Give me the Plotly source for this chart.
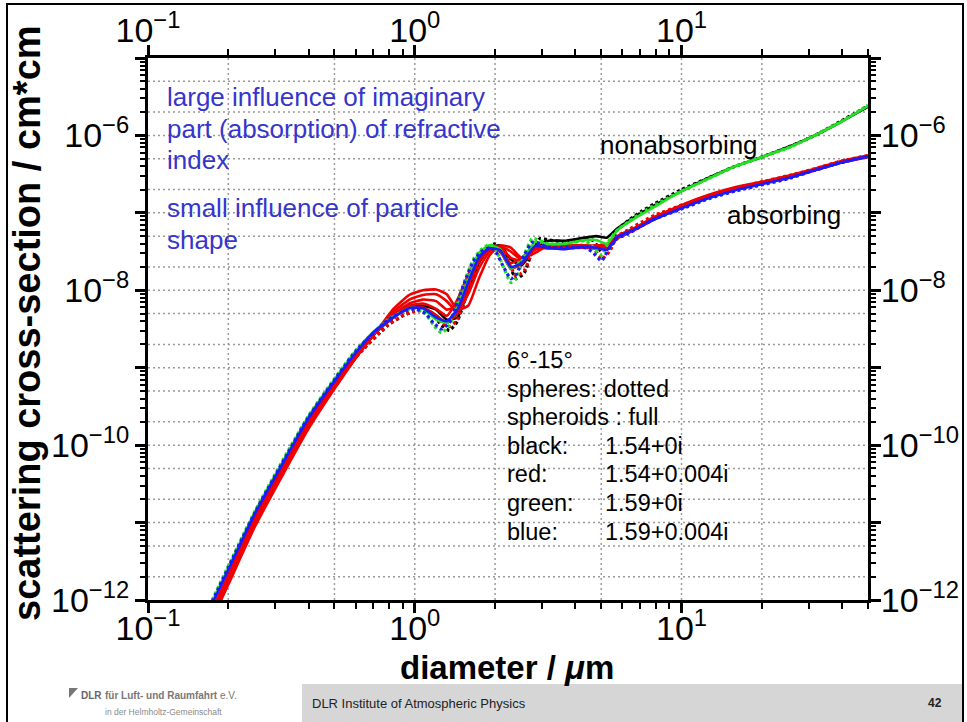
import plotly.graph_objects as go

# ---------------- data ----------------
# diameters (um) of read-out points, spheroid curves (full lines)
d_full = [0.174, 0.200, 0.251, 0.316, 0.398, 0.501, 0.603, 0.708, 0.832, 0.955,
          1.072, 1.202, 1.318, 1.445, 1.585, 1.738, 1.905, 2.089, 2.291, 2.512,
          2.818, 3.162, 3.631, 4.169, 4.786, 5.248, 5.754, 6.607, 7.943, 10.0,
          12.59, 15.85, 19.95, 25.12, 31.62, 39.81, 50.0]

# log10 of scattering cross-section (cm*cm), spheroids
black_full = [-12.15, -11.70, -10.96, -10.33, -9.72, -9.21, -8.84, -8.56, -8.35, -8.22,
              -8.20, -8.25, -8.38, -8.35, -8.00, -7.65, -7.45, -7.42, -7.60, -7.68,
              -7.45, -7.36, -7.36, -7.33, -7.30, -7.32, -7.20, -7.06, -6.90, -6.72,
              -6.55, -6.40, -6.28, -6.15, -6.00, -5.82, -5.63]
red_full_1 = [-12.25, -11.80, -11.06, -10.42, -9.80, -9.27, -8.87, -8.56, -8.24, -8.06,
              -8.00, -7.99, -8.05, -8.25, -8.20, -7.85, -7.55, -7.42, -7.45, -7.58,
              -7.52, -7.42, -7.42, -7.42, -7.42, -7.40, -7.30, -7.20, -7.05, -6.90,
              -6.77, -6.67, -6.60, -6.52, -6.43, -6.33, -6.26]
red_full_2 = [-12.22, -11.77, -11.03, -10.39, -9.77, -9.24, -8.85, -8.56, -8.28, -8.12,
              -8.06, -8.05, -8.14, -8.28, -8.05, -7.72, -7.50, -7.43, -7.50, -7.60,
              -7.48, -7.43, -7.43, -7.43, -7.43, -7.42, -7.31, -7.21, -7.06, -6.91,
              -6.78, -6.68, -6.61, -6.53, -6.44, -6.34, -6.27]
red_full_3 = [-12.18, -11.74, -11.00, -10.36, -9.75, -9.22, -8.84, -8.56, -8.31, -8.17,
              -8.12, -8.14, -8.25, -8.20, -7.92, -7.62, -7.47, -7.45, -7.58, -7.62,
              -7.46, -7.44, -7.44, -7.43, -7.44, -7.43, -7.32, -7.22, -7.07, -6.92,
              -6.79, -6.69, -6.61, -6.54, -6.44, -6.34, -6.27]
red_full_4 = [-12.15, -11.71, -10.97, -10.34, -9.73, -9.21, -8.83, -8.56, -8.33, -8.20,
              -8.17, -8.24, -8.33, -8.12, -7.80, -7.55, -7.45, -7.50, -7.65, -7.58,
              -7.44, -7.45, -7.45, -7.44, -7.45, -7.44, -7.32, -7.22, -7.08, -6.93,
              -6.80, -6.70, -6.62, -6.54, -6.45, -6.35, -6.27]
red_full_5 = [-12.12, -11.68, -10.95, -10.32, -9.71, -9.20, -8.82, -8.55, -8.35, -8.23,
              -8.22, -8.32, -8.42, -8.30, -7.95, -7.62, -7.47, -7.50, -7.72, -7.66,
              -7.45, -7.46, -7.46, -7.45, -7.46, -7.46, -7.33, -7.23, -7.08, -6.93,
              -6.80, -6.70, -6.62, -6.55, -6.45, -6.35, -6.28]
green_full = [-12.03, -11.59, -10.87, -10.25, -9.64, -9.15, -8.78, -8.52, -8.34, -8.23,
              -8.24, -8.38, -8.42, -8.22, -7.85, -7.52, -7.42, -7.47, -7.72, -7.62,
              -7.38, -7.40, -7.40, -7.36, -7.35, -7.40, -7.22, -7.08, -6.92, -6.72,
              -6.56, -6.40, -6.28, -6.16, -6.00, -5.82, -5.62]
blue_full = [-12.05, -11.61, -10.89, -10.27, -9.66, -9.17, -8.80, -8.53, -8.35, -8.23,
             -8.23, -8.35, -8.40, -8.25, -7.90, -7.58, -7.46, -7.48, -7.70, -7.65,
             -7.43, -7.45, -7.47, -7.44, -7.45, -7.48, -7.31, -7.22, -7.08, -6.94,
             -6.81, -6.71, -6.63, -6.55, -6.45, -6.35, -6.27]

# diameters (um) of read-out points, sphere curves (dotted)
d_sph = [0.174, 0.251, 0.398, 0.603, 0.794, 0.912, 1.000, 1.096, 1.175, 1.259,
         1.349, 1.445, 1.549, 1.660, 1.778, 1.905, 1.995, 2.138, 2.291, 2.399,
         2.570, 2.754, 2.951, 3.162, 3.548, 3.981, 4.365, 4.677, 5.012, 5.370,
         5.754, 6.310, 7.079, 7.943, 10.0, 12.59, 15.85, 19.95, 25.12, 31.62,
         39.81, 50.0]
black_dot = [-12.15, -10.98, -9.74, -8.86, -8.45, -8.32, -8.27, -8.26, -8.32, -8.45,
             -8.52, -8.40, -8.10, -7.78, -7.55, -7.43, -7.40, -7.48, -7.72, -7.85,
             -7.78, -7.50, -7.33, -7.35, -7.37, -7.35, -7.33, -7.36, -7.50, -7.40,
             -7.22, -7.10, -6.98, -6.88, -6.70, -6.55, -6.40, -6.28, -6.15, -6.00,
             -5.81, -5.62]
red_dot = [-12.15, -10.98, -9.74, -8.86, -8.45, -8.32, -8.27, -8.26, -8.30, -8.42,
           -8.47, -8.38, -8.10, -7.80, -7.57, -7.46, -7.43, -7.50, -7.70, -7.82,
           -7.75, -7.52, -7.40, -7.42, -7.43, -7.42, -7.42, -7.45, -7.60, -7.50,
           -7.30, -7.22, -7.12, -7.03, -6.90, -6.78, -6.68, -6.60, -6.52, -6.43,
           -6.33, -6.26]
green_dot = [-12.00, -10.86, -9.63, -8.77, -8.38, -8.27, -8.24, -8.30, -8.45, -8.55,
             -8.45, -8.15, -7.85, -7.60, -7.47, -7.41, -7.45, -7.68, -7.90, -7.85,
             -7.55, -7.33, -7.36, -7.40, -7.40, -7.38, -7.36, -7.45, -7.55, -7.35,
             -7.22, -7.12, -7.00, -6.90, -6.72, -6.56, -6.40, -6.28, -6.16, -6.00,
             -5.82, -5.61]
blue_dot = [-12.02, -10.88, -9.65, -8.78, -8.38, -8.27, -8.24, -8.30, -8.42, -8.50,
            -8.42, -8.15, -7.87, -7.62, -7.50, -7.45, -7.48, -7.68, -7.85, -7.80,
            -7.55, -7.38, -7.40, -7.45, -7.45, -7.45, -7.45, -7.52, -7.62, -7.45,
            -7.33, -7.27, -7.17, -7.08, -6.95, -6.82, -6.72, -6.64, -6.56, -6.45,
            -6.35, -6.27]

# axis ticks
x_major = [0.1, 1, 10]
x_labels = ["10<sup>\u22121</sup>", "10<sup>0</sup>", "10<sup>1</sup>"]
y_decades = [1e-12, 1e-11, 1e-10, 1e-9, 1e-8, 1e-7, 1e-6, 1e-5]
y_major = [1e-12, 1e-10, 1e-8, 1e-6]
y_labels = ["10<sup>\u221212</sup>", "10<sup>\u221210</sup>", "10<sup>\u22128</sup>",
            "10<sup>\u22126</sup>"]
x_grid = [0.2, 0.5, 1, 2, 5, 10, 20]
y_grid = [2e-12, 5e-12, 1e-11, 2e-11, 5e-11, 1e-10, 2e-10, 5e-10, 1e-9, 2e-9, 5e-9,
          1e-8, 2e-8, 5e-8, 1e-7, 2e-7, 5e-7, 1e-6, 2e-6, 5e-6]

# ---------------- layout constants ----------------
W, H = 967, 722
L, R, T, B = 148, 99, 58, 122
PW, PH = W - L - R, H - T - B
FONT = "Liberation Sans, Arial, sans-serif"


def fx(xp):
    return (xp - L) / PW


def fy(yp):
    return (H - B - yp) / PH


COL = {"black": "#000000", "red": "#f00000", "green": "#22e022", "blue": "#1a1aff"}

series = [
    ("black", True, d_sph, black_dot),
    ("black", False, d_full, black_full),
    ("red", True, d_sph, red_dot),
    ("red", False, d_full, red_full_1),
    ("red", False, d_full, red_full_2),
    ("red", False, d_full, red_full_3),
    ("red", False, d_full, red_full_4),
    ("red", False, d_full, red_full_5),
    ("green", True, d_sph, green_dot),
    ("green", False, d_full, green_full),
    ("blue", True, d_sph, blue_dot),
    ("blue", False, d_full, blue_full),
]

fig = go.Figure()
for color, dotted, xs, logs in series:
    fig.add_trace(go.Scatter(
        x=xs, y=[10 ** v for v in logs], mode="lines",
        line=dict(color=COL[color], width=3.2 if dotted else 2.6,
                  dash="3px,3px" if dotted else "solid", shape="spline", smoothing=0.5),
        showlegend=False, hoverinfo="skip"))

# empty traces to carry the extra (mirrored / label) axes
fig.add_trace(go.Scatter(x=[], y=[], xaxis="x2", yaxis="y2", showlegend=False))
fig.add_trace(go.Scatter(x=[], y=[], xaxis="x", yaxis="y3", showlegend=False))
fig.add_trace(go.Scatter(x=[], y=[], xaxis="x", yaxis="y4", showlegend=False))

tickfont = dict(family=FONT, size=34, color="black")
common_x = dict(type="log", range=[-1, 1.699], tickmode="array", tickvals=x_major,
                ticktext=x_labels, ticks="outside", ticklen=10, tickwidth=2.5,
                tickcolor="black", showline=True, linewidth=3, linecolor="black",
                showgrid=False, zeroline=False, tickfont=tickfont,
                minor=dict(dtick="D1", ticks="outside", ticklen=6, tickwidth=2,
                           tickcolor="black", showgrid=False))
# decade ticks without labels
common_y = dict(type="log", range=[-12, -5], tickmode="array", tickvals=y_decades,
                showticklabels=False, ticks="outside", ticklen=10, tickwidth=2.5,
                tickcolor="black", showline=True, linewidth=3, linecolor="black",
                showgrid=False, zeroline=False,
                minor=dict(dtick="D1", ticks="outside", ticklen=5, tickwidth=2,
                           tickcolor="black", showgrid=False))
# labelled every second decade
label_y = dict(type="log", range=[-12, -5], tickmode="array", tickvals=y_major,
               ticktext=y_labels, ticks="outside", ticklen=10, tickwidth=2.5,
               tickcolor="black", showline=False, showgrid=False, zeroline=False,
               tickfont=tickfont, overlaying="y", anchor="x")

fig.update_layout(
    width=W, height=H, margin=dict(l=L, r=R, t=T, b=B, autoexpand=False),
    paper_bgcolor="white", plot_bgcolor="white",
    xaxis=dict(**common_x, side="bottom", anchor="y", ticklabelstandoff=-14),
    xaxis2=dict(**common_x, side="top", overlaying="x", anchor="y", ticklabelstandoff=-11),
    yaxis=dict(**common_y, side="left", anchor="x"),
    yaxis2=dict(**common_y, side="right", overlaying="y", anchor="x"),
    yaxis3=dict(**label_y, side="left", ticklabelstandoff=1),
    yaxis4=dict(**label_y, side="right", ticklabelstandoff=-5),
)

shapes = []
grid_line = dict(color="#9a9a9a", width=1.5, dash="2px,3px")
for v in x_grid:
    shapes.append(dict(type="line", xref="x", yref="paper", x0=v, x1=v, y0=0, y1=1,
                       line=grid_line, layer="below"))
for v in y_grid:
    shapes.append(dict(type="line", xref="paper", yref="y", x0=0, x1=1, y0=v, y1=v,
                       line=grid_line, layer="below"))

# slide frame
shapes.append(dict(type="rect", xref="paper", yref="paper", x0=fx(7), x1=fx(963),
                   y0=fy(740), y1=fy(4), line=dict(color="black", width=2),
                   fillcolor="rgba(0,0,0,0)", layer="below"))
# footer bar
shapes.append(dict(type="path", xref="paper", yref="paper",
                   path="M {a},{b} L {c},{b} L {c},{d} L {e},{d} Z".format(
                       a=fx(302), b=fy(684), c=fx(962), d=fy(722), e=fx(302)),
                   fillcolor="#d6d6d6", line=dict(width=0), layer="below"))
# DLR logo mark
shapes.append(dict(type="path", xref="paper", yref="paper",
                   path="M {a},{b} L {c},{b} L {a},{d} Z".format(
                       a=fx(69), b=fy(688), c=fx(78), d=fy(698)),
                   fillcolor="#777777", line=dict(width=0)))
fig.update_layout(shapes=shapes)

ann = []


def text(s, xp, yp, size, color="black", anchor="left", angle=0, bold=False):
    ann.append(dict(text="<b>%s</b>" % s if bold else s, xref="paper", yref="paper",
                    x=fx(xp), y=fy(yp), xanchor=anchor, yanchor="middle",
                    showarrow=False, textangle=angle,
                    font=dict(family=FONT, size=size, color=color)))


BLUE_TXT = "#3636cc"
text("large influence of imaginary", 165, 97, 26, BLUE_TXT)
text("part (absorption) of refractive", 165, 129, 26, BLUE_TXT)
text("index", 165, 160, 26, BLUE_TXT)
text("small influence of particle", 165, 208, 26, BLUE_TXT)
text("shape", 165, 240, 26, BLUE_TXT)
text("nonabsorbing", 598, 145, 26)
text("absorbing", 725, 215, 26)

legend_rows = [("6°-15°", ""), ("spheres: dotted", ""), ("spheroids : full", ""),
               ("black:", "1.54+0i"), ("red:", "1.54+0.004i"),
               ("green:", "1.59+0i"), ("blue:", "1.59+0.004i")]
for i, (a, b) in enumerate(legend_rows):
    yy = 360 + i * 28.6
    text(a, 505, yy, 23.5)
    if b:
        text(b, 603, yy, 23.5)

text("diameter / <i>\u03bc</i>m", 507, 667, 33, bold=True, anchor="center")
text("scattering cross-section / cm*cm", 27, 323, 38, bold=True, anchor="center", angle=-90)

# footer
text("DLR", 79, 695, 10, "#666666", bold=True)
text("<b>für Luft- und Raumfahrt</b> e.V.", 103, 695, 10, "#777777")
text("in der Helmholtz-Gemeinschaft", 103, 712, 8.5, "#8a8a8a")
text("DLR Institute of Atmospheric Physics", 310, 703, 13, "#222222")
text("42", 944, 703, 12, "#222222", anchor="right", bold=True)

fig.update_layout(annotations=ann)
fig.write_html("out.html")
